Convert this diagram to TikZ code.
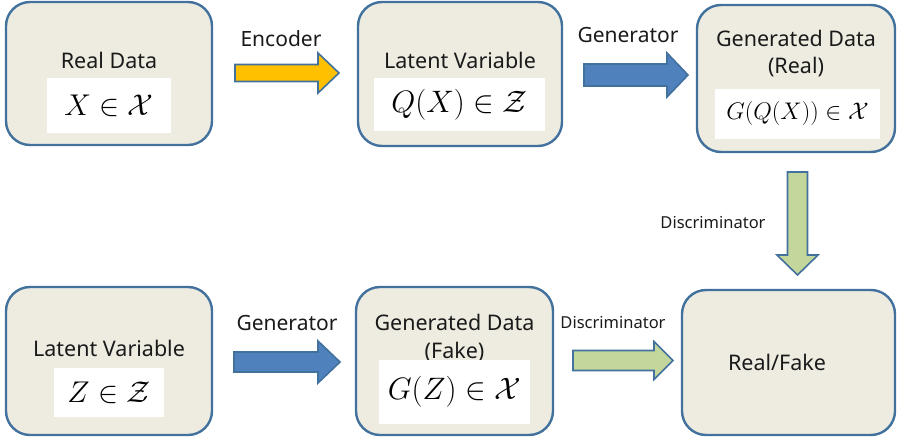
\RequirePackage{fix-cm}
\documentclass[tikz,border=0pt]{standalone}
\usepackage[no-math]{fontspec}
\setmainfont{Noto Sans}
\definecolor{boxfill}{HTML}{EEECE1}
\definecolor{boxline}{HTML}{41719C}
\definecolor{genblue}{HTML}{4F81BD}
\definecolor{encyellow}{HTML}{FFC000}
\definecolor{discgreen}{HTML}{C3D69B}
\definecolor{txt}{HTML}{1A1A1A}
\tikzset{
  stage/.style={draw=boxline, line width=2.4pt, fill=boxfill, rounded corners=24pt, inner sep=0pt},
  mathbox/.style={fill=white, inner sep=0pt},
  title/.style={text=txt, font=\fontsize{21.5}{24}\selectfont, inner sep=0pt},
  edgelabel/.style={text=txt, font=\fontsize{21}{24}\selectfont, inner sep=0pt},
  smalllabel/.style={text=txt, font=\fontsize{16.5}{19}\selectfont, inner sep=0pt},
  blockarrow/.style={draw=boxline, line width=1.6pt, line join=miter},
}
% right-pointing block arrow: shaft start, head base, tip, centre y, shaft half-width, head half-width
\newcommand\rightblock[7]{%
  \draw[blockarrow, fill=#7] ({#1},{#4-#5}) -- ({#2},{#4-#5}) -- ({#2},{#4-#6}) -- ({#3},{#4})
    -- ({#2},{#4+#6}) -- ({#2},{#4+#5}) -- ({#1},{#4+#5}) -- cycle;}
% downward block arrow: shaft top, head base, tip, centre x, shaft half-width, head half-width
\newcommand\downblock[7]{%
  \draw[blockarrow, fill=#7] ({#4-#5},{#1}) -- ({#4-#5},{#2}) -- ({#4-#6},{#2}) -- ({#4},{#3})
    -- ({#4+#6},{#2}) -- ({#4+#5},{#2}) -- ({#4+#5},{#1}) -- cycle;}
\begin{document}
\begin{tikzpicture}[x=1pt, y=-1pt]
\useasboundingbox (0,0) rectangle (897,441);

% stages, top row
\node[stage, minimum width=206pt, minimum height=143pt] (real) at (109,73.5) {};
\node[stage, minimum width=204pt, minimum height=144pt] (latq) at (460,74) {};
\node[stage, minimum width=198pt, minimum height=147pt] (genr) at (796,78.5) {};
% stages, bottom row
\node[stage, minimum width=206pt, minimum height=148pt] (latz) at (109,361) {};
\node[stage, minimum width=197pt, minimum height=148pt] (genf) at (454.5,361) {};
\node[stage, minimum width=213pt, minimum height=145pt] (judge) at (788.5,362.5) {};

% titles
\node[title] (realt) at (109,60) {Real Data};
\node[title] (latqt) at (460,60) {Latent Variable};
\node[title] (genrt1) at (796,38) {Generated Data};
\node[title] (genrt2) at (796,67) {(Real)};
\node[title] (latzt) at (109,348) {Latent Variable};
\node[title] (genft1) at (454.5,322) {Generated Data};
\node[title] (genft2) at (454.5,352) {(Fake)};
\node[title] (judget) at (777,362) {Real/Fake};

% formulas on white panels
\node[mathbox, minimum width=124pt, minimum height=55pt] (realm) at (109,105.5)
  {\fontsize{30}{32}\selectfont $X \in \mathcal{X}$};
\node[mathbox, minimum width=171pt, minimum height=53pt] (latqm) at (459.5,104.5)
  {\fontsize{31}{33}\selectfont $Q(X) \in \mathcal{Z}$};
\node[mathbox, minimum width=165pt, minimum height=50pt] (genrm) at (797.5,114)
  {\fontsize{24}{26}\selectfont $G(Q(X)) \in \mathcal{X}$};
\node[mathbox, minimum width=110pt, minimum height=49pt] (latzm) at (109,392.5)
  {\fontsize{30}{32}\selectfont $Z \in \mathcal{Z}$};
\node[mathbox, minimum width=151pt, minimum height=64pt] (genfm) at (454.5,392)
  {\fontsize{31}{33}\selectfont $G(Z) \in \mathcal{X}$};

% block arrows between stages
\rightblock{235}{318}{339}{73}{8.5}{20}{encyellow}
\rightblock{584}{667}{688}{75}{11}{22}{genblue}
\rightblock{234}{318}{340}{362}{10}{21}{genblue}
\rightblock{573}{654}{673}{360.5}{10}{19}{discgreen}
\downblock{172}{255}{275}{797.5}{10}{20.5}{discgreen}

% arrow labels
\node[edgelabel] (enc) at (281,39) {Encoder};
\node[edgelabel] (gen1) at (628,35) {Generator};
\node[smalllabel] (disc1) at (713,223) {Discriminator};
\node[edgelabel] (gen2) at (287,323) {Generator};
\node[smalllabel] (disc2) at (613,323) {Discriminator};
\end{tikzpicture}
\end{document}
